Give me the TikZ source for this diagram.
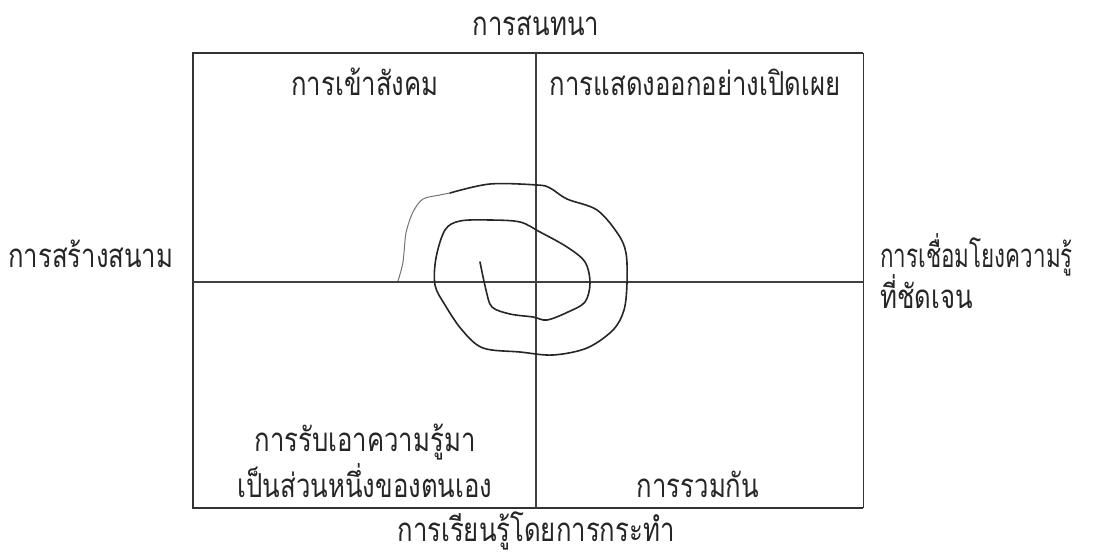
\documentclass[tikz,border=0pt]{standalone}
\usepackage{fontspec}
\newfontfamily\thaifont[Script=Thai,FakeStretch=0.78]{Loma}
\newfontfamily\thainarrow[Script=Thai,FakeStretch=0.68]{Loma}
\begin{document}
\begin{tikzpicture}[x=1pt,y=-1pt,
  lbl/.style={font=\thaifont\fontsize{33}{40}\selectfont, inner sep=0pt, text=black!85},
  lblnarrow/.style={font=\thainarrow\fontsize{33}{40}\selectfont, inner sep=0pt, text=black!85},
  frame/.style={draw=black!80, line width=1.8pt},
  divider/.style={draw=black!75, line width=1.3pt},
  spiral/.style={draw=black!85, line width=1.6pt, line join=round, line cap=round},
  tail/.style={draw=black!55, line width=1pt, line join=round}]
\useasboundingbox[fill=white] (0,0) rectangle (1098,556);
% frame corners
\coordinate (tl) at (193,53);
\coordinate (tr) at (863,53);
\coordinate (bl) at (193,508);
\coordinate (br) at (863,508);
\coordinate (tm) at (536,53);
\coordinate (bm) at (536,508);
\coordinate (ml) at (193,282);
\coordinate (mr) at (863,282);
\draw[frame] (tr) -- (tl) -- (bl) -- (br);
\draw[draw=black!80, line width=1pt] (tr) -- (br);
\draw[divider] (tm) -- (bm);
\draw[divider] (ml) -- (mr);
% spiral
\draw[spiral] plot[smooth, tension=0.55] coordinates {
 (480,262) (486,290) (492,307) (510,314) (533,317) (547,320) (568,312) (585,302) (590,283) (585,262) (567,247) (540,232) (520,222) (490,220) (460,221) (445,230) (436,258) (435,285) (445,305) (462,330) (483,348) (520,352) (553,355) (587,348) (613,330) (624,310) (627,283) (626,253) (618,234) (597,210) (567,199) (550,188) (537,185) (490,184) (450,193)};
\draw[tail] plot[smooth, tension=0.5] coordinates {
 (450,193) (440,195) (423,199) (413,212) (406,233) (403,262) (398,281)};
% labels
\node[lbl, anchor=base] (top) at (536,36) {การสนทนา};
\node[lbl, anchor=base] (q1) at (365,96) {การเข้าสังคม};
\node[lbl, anchor=base] (q2) at (695,96) {การแสดงออกอย่างเปิดเผย};
\node[lbl, anchor=base west] (left) at (8,268) {การสร้างสนาม};
\node[lblnarrow, anchor=base west] (right1) at (880,268) {การเชื่อมโยงความรู้};
\node[lbl, anchor=base west] (right2) at (880,308) {ที่ชัดเจน};
\node[lbl, anchor=base] (q3a) at (365,451) {การรับเอาความรู้มา};
\node[lbl, anchor=base] (q3b) at (365,497) {เป็นส่วนหนึ่งของตนเอง};
\node[lbl, anchor=base] (q4) at (698,497) {การรวมกัน};
\node[lbl, anchor=base] (bot) at (536,541) {การเรียนรู้โดยการกระทำ};
\end{tikzpicture}
\end{document}
